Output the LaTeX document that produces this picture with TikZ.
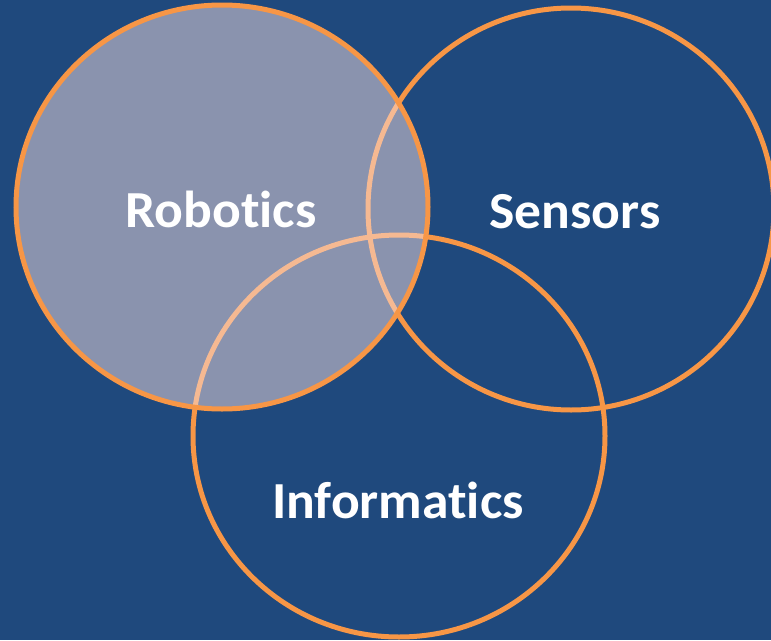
\documentclass[tikz,border=0pt]{standalone}
\usepackage{graphicx}
\usepackage{fontspec}
\setmainfont[Ligatures=NoCommon]{Carlito}
\definecolor{bg}{RGB}{31,73,125}
\definecolor{ring}{RGB}{247,150,70}
\definecolor{veil}{RGB}{245,221,223}
\newcommand{\widetxt}[1]{\scalebox{1.03}[1]{#1}}
\begin{document}
\begin{tikzpicture}[x=1pt,y=-1pt,
  ringline/.style={draw=ring,line width=5pt},
  label/.style={text=white,font=\fontsize{52}{52}\selectfont\bfseries,inner sep=0pt,anchor=base}]
\useasboundingbox (0,0) rectangle (771,640);
\fill[bg] (0,0) rectangle (771,640);
\coordinate (cr) at (222,207);
\coordinate (cs) at (571,209);
\coordinate (ci) at (399,436);
\draw[ringline] (cs) ellipse [x radius=203,y radius=201];
\draw[ringline] (ci) ellipse [x radius=206,y radius=201];
\fill[veil,fill opacity=0.5] (cr) ellipse [x radius=206,y radius=202];
\draw[ringline] (cr) ellipse [x radius=206,y radius=202];
\node[label] (rob) at (221,227) {\widetxt{Robotics}};
\node[label] (sen) at (575,228) {\widetxt{Sensors}};
\node[label] (inf) at (398,518) {\widetxt{Informatics}};
\end{tikzpicture}
\end{document}
